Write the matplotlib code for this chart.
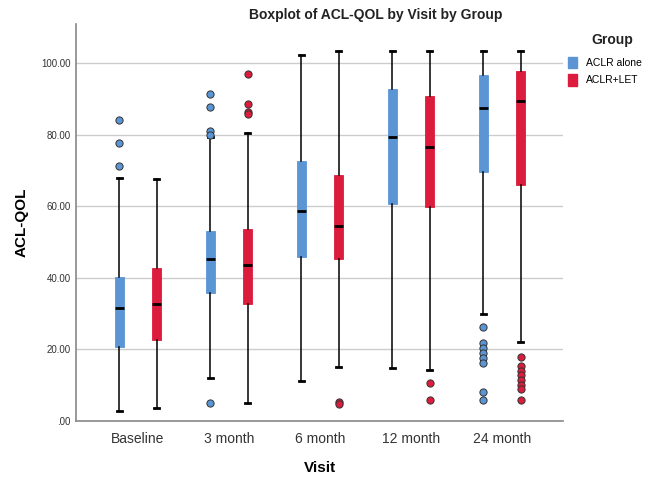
import matplotlib
matplotlib.use("Agg")
import matplotlib.pyplot as plt
from matplotlib.patches import Patch
from matplotlib.ticker import FuncFormatter

plt.rcParams["font.family"] = ["Liberation Sans", "DejaVu Sans"]

# Visits and groups
visits = ["Baseline", "3 month", "6 month", "12 month", "24 month"]
groups = ["ACLR alone", "ACLR+LET"]
colors = ["#5b95d4", "#dc1c3c"]

# Box statistics, one list per group
alone_q1 = [20.6, 35.8, 45.8, 60.6, 69.5]
alone_med = [31.5, 45.4, 58.7, 79.5, 87.6]
alone_q3 = [40.2, 53.2, 72.7, 92.8, 96.7]
alone_lo = [2.9, 12.1, 11.2, 14.8, 29.8]
alone_hi = [67.9, 79.5, 102.3, 103.4, 103.4]
alone_out = [
    [84.1, 77.6, 71.2],
    [91.3, 87.8, 81.2, 80.1, 5.1],
    [],
    [],
    [26.4, 21.8, 20.4, 19.0, 17.6, 16.2, 8.2, 5.9],
]

let_q1 = [22.7, 32.7, 45.3, 59.8, 66.1]
let_med = [32.7, 43.5, 54.4, 76.7, 89.4]
let_q3 = [42.7, 53.8, 68.7, 91.0, 97.9]
let_lo = [3.5, 5.1, 15.1, 14.3, 22.2]
let_hi = [67.7, 80.4, 103.4, 103.4, 103.4]
let_out = [
    [],
    [96.9, 88.5, 86.4, 85.9],
    [5.4, 4.8],
    [10.6, 5.9],
    [17.8, 15.4, 14.1, 12.9, 11.5, 10.1, 8.9, 5.9],
]

fig = plt.figure(figsize=(6.56, 4.8), dpi=100)
ax = fig.add_axes([0.116, 0.123, 0.742, 0.827])

offset = 0.205
width = 0.1

for gi, (q1s, meds, q3s, los, his, outs) in enumerate([
        (alone_q1, alone_med, alone_q3, alone_lo, alone_hi, alone_out),
        (let_q1, let_med, let_q3, let_lo, let_hi, let_out)]):
    stats = []
    for i in range(len(visits)):
        stats.append({"q1": q1s[i], "med": meds[i], "q3": q3s[i],
                      "whislo": los[i], "whishi": his[i], "fliers": outs[i]})
    pos = [i + (offset if gi else -offset) for i in range(len(visits))]
    ax.bxp(stats, positions=pos, widths=width, capwidths=0.06,
           patch_artist=True, showfliers=True,
           boxprops=dict(facecolor=colors[gi], edgecolor=colors[gi], linewidth=0.6),
           medianprops=dict(color="black", linewidth=2),
           whiskerprops=dict(color="black", linewidth=1.1),
           capprops=dict(color="black", linewidth=2),
           flierprops=dict(marker="o", markerfacecolor=colors[gi],
                           markeredgecolor="#333333", markeredgewidth=0.7,
                           markersize=5.2),
           zorder=3)

ax.set_xlim(-0.68, 4.67)
ax.set_ylim(0, 111)
ax.set_xticks(range(len(visits)))
ax.set_xticklabels(visits, fontsize=10, color="#333333")
ax.set_yticks([0, 20, 40, 60, 80, 100])
ax.yaxis.set_major_formatter(FuncFormatter(lambda v, p: ".00" if v == 0 else f"{v:.2f}"))
ax.tick_params(axis="y", length=0, labelsize=7, colors="#333333", pad=4)
ax.tick_params(axis="x", length=0, pad=8)
ax.grid(axis="y", color="#cccccc", linewidth=1)
ax.set_axisbelow(True)
for s in ["top", "right"]:
    ax.spines[s].set_visible(False)
for s in ["left", "bottom"]:
    ax.spines[s].set_color("#888888")
    ax.spines[s].set_linewidth(1.2)

ax.set_ylabel("ACL-QOL", fontsize=11, fontweight="bold", labelpad=9)
ax.set_xlabel("Visit", fontsize=11, fontweight="bold", labelpad=11)
fig.text(0.573, 0.968, "Boxplot of ACL-QOL by Visit by Group", ha="center",
         va="center", fontsize=10, fontweight="bold", color="#222222")

# legend title drawn separately to match the spacing
fig.text(0.933, 0.917, "Group", ha="center", va="center", fontsize=10,
         fontweight="bold", color="#222222")
handles = [Patch(facecolor=c, edgecolor=c) for c in colors]
fig.legend(handles, groups, loc="upper left", bbox_to_anchor=(0.866, 0.881),
           frameon=False, fontsize=7.5,
           handlelength=0.9, handleheight=1.3, handletextpad=0.8,
           labelspacing=0.55, borderpad=0.0, borderaxespad=0)

fig.savefig("out.png", dpi=100)
